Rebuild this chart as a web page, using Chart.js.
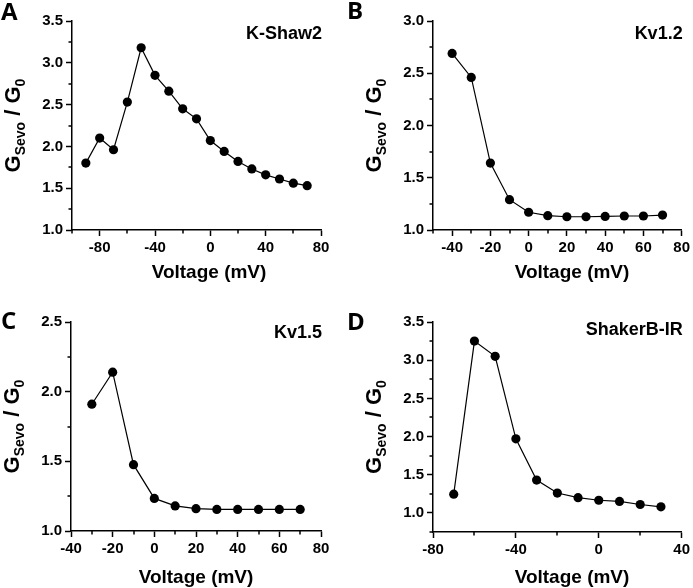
<!DOCTYPE html>
<html>
<head>
<meta charset="utf-8">
<script src="https://cdn.jsdelivr.net/npm/chart.js@4/dist/chart.umd.min.js"></script>
<style>
  body { margin: 0; background: #fff; }
  #wrap { position: relative; width: 693px; height: 588px; overflow: hidden; }
  .panel { position: absolute; }
</style>
</head>
<body>
<div id="wrap">
  <div class="panel" style="left:0px;top:0px"><canvas id="cA" width="346" height="294"></canvas></div>
  <div class="panel" style="left:346px;top:0px"><canvas id="cB" width="347" height="294"></canvas></div>
  <div class="panel" style="left:0px;top:294px"><canvas id="cC" width="346" height="294"></canvas></div>
  <div class="panel" style="left:346px;top:294px"><canvas id="cD" width="347" height="294"></canvas></div>
</div>
<script>
// data
const shawVoltage = [-90, -80, -70, -60, -50, -40, -30, -20, -10, 0, 10, 20, 30, 40, 50, 60, 70];
const shawRatio = [1.80, 2.10, 1.96, 2.53, 3.18, 2.85, 2.66, 2.45, 2.33, 2.07, 1.94, 1.82, 1.73, 1.66, 1.61, 1.56, 1.53];

const kv12Voltage = [-40, -30, -20, -10, 0, 10, 20, 30, 40, 50, 60, 70];
const kv12Ratio = [2.69, 2.46, 1.64, 1.29, 1.17, 1.137, 1.127, 1.127, 1.13, 1.134, 1.134, 1.143];

const kv15Voltage = [-30, -20, -10, 0, 10, 20, 30, 40, 50, 60, 70];
const kv15Ratio = [1.91, 2.14, 1.476, 1.234, 1.18, 1.16, 1.155, 1.155, 1.155, 1.155, 1.155];

const shakerVoltage = [-70, -60, -50, -40, -30, -20, -10, 0, 10, 20, 30];
const shakerRatio = [1.245, 3.25, 3.05, 1.97, 1.43, 1.26, 1.20, 1.166, 1.15, 1.11, 1.08];

// tick labels (major) and unlabeled minor ticks
const shawXTicks = [-80, -40, 0, 40, 80];
const shawXMinor = [-100, -60, -20, 20, 60];
const shawYTicks = [1.0, 1.5, 2.0, 2.5, 3.0, 3.5];
const shawYMinor = [1.25, 1.75, 2.25, 2.75, 3.25];

const kv12XTicks = [-40, -20, 0, 20, 40, 60, 80];
const kv12XMinor = [-50, -30, -10, 10, 30, 50, 70];
const kv12YTicks = [1.0, 1.5, 2.0, 2.5, 3.0];
const kv12YMinor = [1.25, 1.75, 2.25, 2.75];

const kv15XTicks = [-40, -20, 0, 20, 40, 60, 80];
const kv15XMinor = [-30, -10, 10, 30, 50, 70];
const kv15YTicks = [1.0, 1.5, 2.0, 2.5];
const kv15YMinor = [1.25, 1.75, 2.25];

const shakerXTicks = [-80, -40, 0, 40];
const shakerXMinor = [-60, -20, 20];
const shakerYTicks = [1.0, 1.5, 2.0, 2.5, 3.0, 3.5];
const shakerYMinor = [0.75, 1.25, 1.75, 2.25, 2.75, 3.25];

const FONT = 'Liberation Sans';

Chart.defaults.font.family = FONT;
Chart.defaults.font.size = 15;
Chart.defaults.font.weight = 700;
Chart.defaults.color = '#000';

// draws minor ticks, axis titles, channel name and panel letter
const decor = {
    id: 'decor',
    afterDraw(chart, args, o) {
        const ctx = chart.ctx;
        const xs = chart.scales.x, ys = chart.scales.y;
        const a = chart.chartArea;
        ctx.save();
        ctx.strokeStyle = '#000';
        ctx.lineWidth = 1.5;
        ctx.beginPath();
        o.xMinor.forEach(v => {
            const px = Math.round(xs.getPixelForValue(v));
            ctx.moveTo(px, a.bottom);
            ctx.lineTo(px, a.bottom + 3.5);
        });
        o.yMinor.forEach(v => {
            const py = Math.round(ys.getPixelForValue(v));
            ctx.moveTo(a.left, py);
            ctx.lineTo(a.left - 3.5, py);
        });
        ctx.stroke();

        ctx.fillStyle = '#000';
        ctx.textBaseline = 'alphabetic';

        // x title
        ctx.font = 'bold 19px ' + FONT;
        ctx.textAlign = 'center';
        ctx.fillText('Voltage (mV)', o.xTitleX, o.xTitleY);

        // channel name
        ctx.font = 'bold 18px ' + FONT;
        ctx.textAlign = 'right';
        ctx.fillText(o.name, a.right + 1, o.nameY);

        // panel letter
        ctx.font = 'bold 24px "Open Sans"';
        ctx.textAlign = 'left';
        ctx.fillText(o.letter, o.letterX, o.letterY);

        // y title  G_Sevo / G_0
        const big = 'bold 22px ' + FONT, small = 'bold 14px ' + FONT;
        const parts = [['G', big, 0], ['Sevo', small, 5], [' / ', big, 0], ['G', big, 0], ['0', small, 5]];
        let total = 0;
        parts.forEach(p => { ctx.font = p[1]; total += ctx.measureText(p[0]).width; });
        ctx.translate(a.left - 52, (a.top + a.bottom) / 2);
        ctx.rotate(-Math.PI / 2);
        let cx = -total / 2;
        parts.forEach(p => {
            ctx.font = p[1];
            ctx.fillText(p[0], cx, p[2]);
            cx += ctx.measureText(p[0]).width;
        });
        ctx.restore();
    }
};

function makePanel(id, cfg) {
    const canvas = document.getElementById(id);
    const H = canvas.height;
    const points = cfg.voltage.map((v, i) => ({ x: v, y: cfg.ratio[i] }));
    const tickFont = { family: FONT, size: 15, weight: 700 };
    return new Chart(canvas.getContext('2d'), {
        type: 'scatter',
        data: {
            datasets: [{
                data: points,
                showLine: true,
                borderColor: '#000',
                borderWidth: 1.2,
                pointRadius: 4.6,
                pointBackgroundColor: '#000',
                pointBorderWidth: 0,
                clip: false
            }]
        },
        options: {
            responsive: false,
            animation: false,
            layout: { padding: { left: 0, right: canvas.width - cfg.right, top: cfg.top, bottom: 0 } },
            plugins: {
                legend: { display: false },
                tooltip: { enabled: false },
                decor: {
                    xMinor: cfg.xMinor, yMinor: cfg.yMinor,
                    name: cfg.name, nameY: cfg.nameY,
                    letter: cfg.letter, letterX: cfg.letterX, letterY: cfg.letterY,
                    xTitleX: cfg.xTitleX, xTitleY: cfg.xTitleY
                }
            },
            scales: {
                x: {
                    type: 'linear',
                    min: cfg.xMin, max: cfg.xMax,
                    afterBuildTicks: s => { s.ticks = cfg.xTicks.map(v => ({ value: v })); },
                    afterFit: s => { s.height = H - cfg.bottom; },
                    ticks: { color: '#000', padding: 3, maxRotation: 0, font: tickFont },
                    grid: { display: true, drawOnChartArea: false, tickLength: 6, tickColor: '#000', tickWidth: 1.5 },
                    border: { display: true, color: '#000', width: 1.5 }
                },
                y: {
                    type: 'linear',
                    min: cfg.yMin, max: cfg.yMax,
                    afterBuildTicks: s => { s.ticks = cfg.yTicks.map(v => ({ value: v })); },
                    afterFit: s => { s.width = cfg.left; },
                    ticks: { color: '#000', padding: 3, callback: v => v.toFixed(1), font: tickFont },
                    grid: { display: true, drawOnChartArea: false, tickLength: 6, tickColor: '#000', tickWidth: 1.5 },
                    border: { display: true, color: '#000', width: 1.5 }
                }
            }
        },
        plugins: [decor]
    });
}

makePanel('cA', {
    voltage: shawVoltage, ratio: shawRatio,
    xMin: -100, xMax: 80, yMin: 1.0, yMax: 3.5,
    xTicks: shawXTicks, xMinor: shawXMinor, yTicks: shawYTicks, yMinor: shawYMinor,
    left: 72, right: 321, top: 21, bottom: 230,
    name: 'K-Shaw2', nameY: 39, letter: 'A', letterX: 1, letterY: 20,
    xTitleX: 209, xTitleY: 278
});
makePanel('cB', {
    voltage: kv12Voltage, ratio: kv12Ratio,
    xMin: -50, xMax: 80, yMin: 1.0, yMax: 3.0,
    xTicks: kv12XTicks, xMinor: kv12XMinor, yTicks: kv12YTicks, yMinor: kv12YMinor,
    left: 87, right: 336, top: 21, bottom: 230,
    name: 'Kv1.2', nameY: 39, letter: 'B', letterX: 1, letterY: 19,
    xTitleX: 226, xTitleY: 278
});
makePanel('cC', {
    voltage: kv15Voltage, ratio: kv15Ratio,
    xMin: -40, xMax: 80, yMin: 1.0, yMax: 2.5,
    xTicks: kv15XTicks, xMinor: kv15XMinor, yTicks: kv15YTicks, yMinor: kv15YMinor,
    left: 71, right: 321, top: 28, bottom: 237,
    name: 'Kv1.5', nameY: 44, letter: 'C', letterX: 1, letterY: 35,
    xTitleX: 196, xTitleY: 289
});
makePanel('cD', {
    voltage: shakerVoltage, ratio: shakerRatio,
    xMin: -80, xMax: 40, yMin: 0.75, yMax: 3.5,
    xTicks: shakerXTicks, xMinor: shakerXMinor, yTicks: shakerYTicks, yMinor: shakerYMinor,
    left: 87, right: 337, top: 28, bottom: 238,
    name: 'ShakerB-IR', nameY: 41, letter: 'D', letterX: 1, letterY: 36,
    xTitleX: 226, xTitleY: 289
});
</script>
</body>
</html>
